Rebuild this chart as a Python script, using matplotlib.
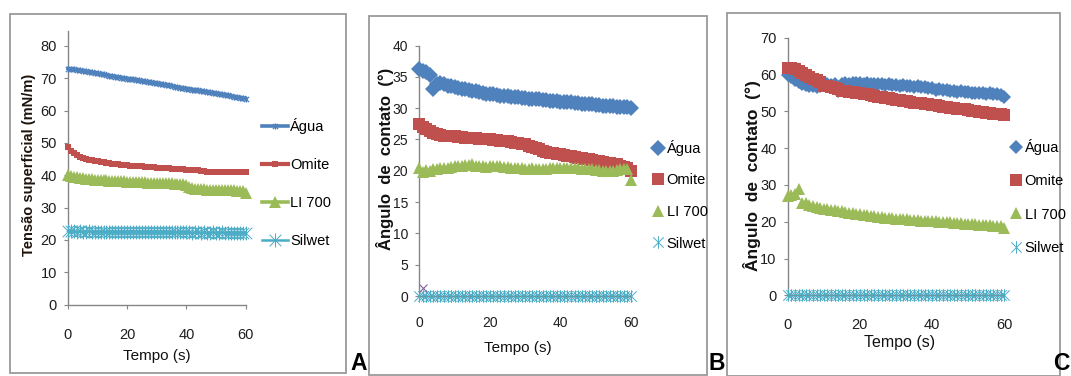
import matplotlib
matplotlib.use("Agg")
import matplotlib.pyplot as plt
from matplotlib import font_manager
from matplotlib.path import Path
from matplotlib.patches import Rectangle

# ---------------- data ----------------
tempo = list(range(61))

series_names = ["Água", "Omite", "LI 700", "Silwet"]

# Panel A: surface tension (mN/m)
agua_A = [73.0,72.8,72.7,72.5,72.4,72.2,72.1,71.9,71.8,71.6,
          71.5,71.3,71.2,71.0,70.8,70.7,70.5,70.4,70.2,70.1,
          69.9,69.8,69.6,69.5,69.3,69.1,69.0,68.8,68.7,68.5,
          68.4,68.2,68.1,67.9,67.8,67.6,67.4,67.3,67.1,67.0,
          66.8,66.7,66.5,66.4,66.2,66.0,65.9,65.7,65.6,65.4,
          65.3,65.1,65.0,64.8,64.7,64.5,64.3,64.2,64.0,63.9,
          63.7]
omite_A = [48.6,47.6,46.8,46.2,45.7,45.3,45.0,44.8,44.6,44.4,
           44.3,44.1,44.0,43.8,43.7,43.6,43.5,43.4,43.2,43.1,
           43.0,42.9,42.9,42.8,42.7,42.7,42.6,42.5,42.5,42.4,
           42.3,42.2,42.2,42.1,42.1,42.0,42.0,41.9,41.9,41.8,
           41.7,41.7,41.6,41.6,41.5,41.4,41.2,41.1,41.1,41.1,
           41.1,41.1,41.1,41.0,41.0,41.0,41.0,41.0,41.0,41.0,
           41.0]
li_A = [40.0,39.7,39.5,39.3,39.1,39.0,38.9,38.8,38.7,38.6,
        38.6,38.5,38.4,38.4,38.3,38.3,38.2,38.2,38.1,38.1,
        38.0,38.0,37.9,37.9,37.9,37.8,37.8,37.7,37.7,37.7,
        37.6,37.6,37.6,37.5,37.5,37.5,37.4,37.4,37.3,37.3,
        37.0,36.5,36.0,35.8,35.7,35.6,35.6,35.5,35.5,35.5,
        35.4,35.4,35.4,35.3,35.3,35.3,35.3,35.2,35.2,35.2,
        34.5]
silwet_A = [22.7,22.6,22.6,22.5,22.6,22.5,22.5,22.6,22.5,22.5,
            22.5,22.4,22.5,22.5,22.4,22.5,22.4,22.4,22.5,22.4,
            22.4,22.4,22.5,22.4,22.4,22.3,22.4,22.4,22.3,22.4,
            22.4,22.3,22.3,22.4,22.3,22.3,22.3,22.4,22.3,22.3,
            22.3,22.3,22.2,22.3,22.3,22.2,22.3,22.2,22.2,22.3,
            22.2,22.2,22.3,22.2,22.2,22.2,22.1,22.2,22.2,22.1,
            22.2]

# Panel B: contact angle (°)
agua_B = [36.2,36.0,35.7,35.3,33.0,33.9,34.0,33.8,33.6,33.5,
          33.3,33.2,33.1,33.0,32.9,32.8,32.7,32.5,32.4,32.3,
          32.3,32.2,32.1,32.0,32.0,31.9,31.8,31.8,31.7,31.6,
          31.6,31.5,31.5,31.4,31.4,31.3,31.3,31.2,31.1,31.1,
          31.0,31.0,30.9,30.9,30.8,30.8,30.7,30.7,30.6,30.6,
          30.5,30.5,30.4,30.4,30.3,30.3,30.2,30.2,30.1,30.1,
          30.0]
omite_B = [27.4,27.0,26.6,26.3,26.0,25.8,25.7,25.6,25.6,25.5,
           25.5,25.4,25.4,25.3,25.3,25.2,25.2,25.1,25.1,25.0,
           25.0,24.9,24.9,24.8,24.7,24.7,24.6,24.5,24.4,24.3,
           24.2,24.0,23.8,23.6,23.4,23.2,23.0,22.9,22.8,22.7,
           22.6,22.5,22.4,22.3,22.2,22.1,22.0,21.9,21.8,21.7,
           21.6,21.5,21.4,21.3,21.2,21.1,21.0,20.8,20.6,20.4,
           20.0]
li_B = [20.4,19.8,20.1,20.0,20.2,20.3,20.4,20.5,20.5,20.6,
        20.7,20.8,20.8,20.9,20.9,21.0,20.8,20.7,20.7,20.6,
        20.7,20.8,20.8,20.7,20.6,20.6,20.5,20.5,20.4,20.4,
        20.3,20.3,20.4,20.3,20.3,20.2,20.3,20.4,20.4,20.5,
        20.5,20.4,20.4,20.5,20.5,20.4,20.3,20.3,20.2,20.2,
        20.1,20.1,20.0,20.0,19.9,20.0,20.1,20.2,20.2,20.3,
        18.5]
silwet_B = [0,0,0,0,0,0,0,0,0,0, 0,0,0,0,0,0,0,0,0,0,
            0,0,0,0,0,0,0,0,0,0, 0,0,0,0,0,0,0,0,0,0,
            0,0,0,0,0,0,0,0,0,0, 0,0,0,0,0,0,0,0,0,0, 0]
extra_B_t = [1]
extra_B_v = [1.2]

# Panel C: contact angle (°)
agua_C = [60.0,59.2,58.6,58.0,57.5,57.1,57.0,56.8,56.6,56.9,
          57.1,57.3,57.2,57.4,55.4,57.3,57.6,57.5,57.7,57.6,
          57.7,57.5,57.6,57.4,57.5,57.3,57.4,57.2,57.3,57.1,
          57.2,57.0,57.1,56.9,57.0,56.7,56.8,56.5,56.6,56.3,
          56.2,55.9,56.0,55.7,55.8,55.5,55.6,55.3,55.4,55.2,
          55.3,55.0,55.1,54.9,55.0,54.8,54.9,54.6,54.8,54.5,
          54.0]
omite_C = [61.8,61.9,61.5,61.0,60.4,59.8,59.3,58.9,58.4,57.9,
           57.0,56.8,56.5,56.3,56.0,55.6,55.4,55.3,55.2,55.0,
           54.9,54.7,54.6,54.4,54.2,54.0,53.9,53.7,53.5,53.3,
           53.1,53.0,52.8,52.7,52.5,52.3,52.2,52.2,52.1,51.9,
           51.8,51.6,51.5,51.3,51.1,50.9,50.8,50.7,50.6,50.5,
           50.4,50.2,50.1,49.9,49.8,49.6,49.5,49.4,49.4,49.3,
           49.0]
li_C = [27.0,27.2,27.5,28.8,25.2,25.0,24.6,24.3,24.0,23.8,
        23.5,23.4,23.2,23.1,22.9,22.8,22.6,22.5,22.3,22.2,
        22.0,21.9,21.8,21.6,21.5,21.4,21.3,21.1,21.0,20.9,
        20.8,20.7,20.7,20.6,20.5,20.5,20.4,20.3,20.3,20.2,
        20.1,20.1,20.0,19.9,19.9,19.8,19.7,19.6,19.6,19.5,
        19.4,19.3,19.3,19.2,19.1,19.0,19.0,18.9,18.8,18.7,
        18.4]
silwet_C = [0,0,0,0,0,0,0,0,0,0, 0,0,0,0,0,0,0,0,0,0,
            0,0,0,0,0,0,0,0,0,0, 0,0,0,0,0,0,0,0,0,0,
            0,0,0,0,0,0,0,0,0,0, 0,0,0,0,0,0,0,0,0,0, 0]

xticks = [0, 20, 40, 60]
yticks_A = [0, 10, 20, 30, 40, 50, 60, 70, 80]
yticks_B = [0, 5, 10, 15, 20, 25, 30, 35, 40]
yticks_C = [0, 10, 20, 30, 40, 50, 60, 70]

# ---------------- style ----------------
W, H = 1071, 376
DPI = 100
colors = ["#4F81BD", "#C0504D", "#9BBB59", "#4BACC6"]
AXIS_GRAY = "#868686"

def has_font(name):
    try:
        font_manager.findfont(font_manager.FontProperties(family=name), fallback_to_default=False)
        return True
    except Exception:
        return False

NARROW = "Liberation Sans Narrow" if has_font("Liberation Sans Narrow") else "Liberation Sans"
BOLD = "Liberation Sans"

# Excel-like star marker: X plus vertical bar
star_path = Path([(-1, -1), (1, 1), (-1, 1), (1, -1), (0, -1.2), (0, 1.2)],
                 [Path.MOVETO, Path.LINETO, Path.MOVETO, Path.LINETO, Path.MOVETO, Path.LINETO])

fig = plt.figure(figsize=(W / DPI, H / DPI), dpi=DPI)

def fx(x):
    return x / W

def fy(y):
    return 1 - y / H

def make_axes(x0, x1, y_bottom, y_top):
    ax = fig.add_axes([fx(x0), fy(y_bottom), fx(x1 - x0), (y_bottom - y_top) / H])
    for s in ["top", "right"]:
        ax.spines[s].set_visible(False)
    for s in ["left", "bottom"]:
        ax.spines[s].set_color(AXIS_GRAY)
        ax.spines[s].set_linewidth(1.0)
        ax.spines[s].set_zorder(0.5)
    ax.patch.set_alpha(0)
    return ax

def style_ticks(ax, size, xpad):
    ax.xaxis.set_tick_params(direction="out", length=3, width=0.8, color=AXIS_GRAY,
                             labelsize=size, labelcolor="#1e1e1e", pad=xpad)
    ax.yaxis.set_tick_params(direction="out", length=3, width=0.8, color=AXIS_GRAY,
                             labelsize=size, labelcolor="#1e1e1e", pad=5)
    for lab in ax.get_xticklabels() + ax.get_yticklabels():
        lab.set_fontfamily(NARROW)

# frames around panels
for (x0, y0, x1, y1) in [(10, 14, 346, 373), (369, 16, 707, 375), (727, 13, 1060, 376)]:
    fig.patches.append(Rectangle((fx(x0), fy(y1)), fx(x1 - x0), (y1 - y0) / H,
                                 transform=fig.transFigure, fill=False,
                                 edgecolor="#9a9a9a", linewidth=1.3))

# ---------------- Panel A ----------------
axA = make_axes(68, 245.5, 304.5, 31)
axA.set_xlim(0, 60)
axA.set_ylim(0, 84.6)
hA = []
hA.append(axA.plot(tempo, agua_A, color=colors[0], lw=2.6, marker=star_path, ms=4.5,
                   mec=colors[0], mew=0.9, clip_on=False, label=series_names[0])[0])
hA.append(axA.plot(tempo, omite_A, color=colors[1], lw=3.0, marker="s", ms=4,
                   mec=colors[1], mew=0, clip_on=False, label=series_names[1])[0])
hA.append(axA.plot(tempo, li_A, color=colors[2], lw=2.6, marker="^", ms=9,
                   mew=0, clip_on=False, label=series_names[2])[0])
hA.append(axA.plot(tempo, silwet_A, color=colors[3], lw=1.8, marker=star_path, ms=10,
                   mfc="none", mec=colors[3], mew=0.7, clip_on=False, label=series_names[3])[0])
axA.set_xticks(xticks)
axA.set_yticks(yticks_A)
style_ticks(axA, 10.5, 14)

legA = fig.legend(handles=hA, loc="upper left", bbox_to_anchor=(fx(262), fy(118)),
                  frameon=False, prop={"family": NARROW, "size": 10.5},
                  handlelength=1.8, handletextpad=0.15, labelspacing=1.65,
                  borderpad=0, borderaxespad=0)

fig.text(fx(29), fy(165), "Tensão superficial (mN/m)", rotation=90, ha="center", va="center",
         fontsize=10.5, fontweight="bold", family=BOLD, color="#1f140c")
fig.text(fx(157), fy(356), "Tempo (s)", ha="center", va="center", fontsize=11,
         family=NARROW, color="#111111")

# ---------------- Panel B ----------------
axB = make_axes(419.3, 631, 296, 45.5)
axB.set_xlim(0, 60)
axB.set_ylim(0, 40)
hB = []
hB.append(axB.plot(tempo, agua_B, ls="none", marker="D", ms=8.5, color=colors[0], mew=0,
                   clip_on=False, label=series_names[0])[0])
hB.append(axB.plot(tempo, omite_B, ls="none", marker="s", ms=8, color=colors[1], mew=0,
                   clip_on=False, label=series_names[1])[0])
hB.append(axB.plot(tempo, li_B, ls="none", marker="^", ms=8.5, color=colors[2], mew=0,
                   clip_on=False, label=series_names[2])[0])
hB.append(axB.plot(tempo, silwet_B, ls="none", marker=star_path, ms=9, mfc="none",
                   mec=colors[3], mew=0.7, clip_on=False, label=series_names[3])[0])
axB.plot(extra_B_t, extra_B_v, ls="none", marker="x", ms=6, mec="#8064A2", mew=0.8, clip_on=False)
axB.set_xticks(xticks)
axB.set_yticks(yticks_B)
style_ticks(axB, 10, 11.5)

legB = fig.legend(handles=hB, loc="upper left", bbox_to_anchor=(fx(652), fy(140)),
                  frameon=False, prop={"family": NARROW, "size": 10.5},
                  handlelength=0.8, handletextpad=0.2, labelspacing=1.2, numpoints=1,
                  borderpad=0, borderaxespad=0)

fig.text(fx(385), fy(159), "Ângulo  de  contato  (°)", rotation=90, ha="center", va="center",
         fontsize=12, fontweight="bold", family=BOLD, color="#111111")
fig.text(fx(518), fy(348), "Tempo (s)", ha="center", va="center", fontsize=11,
         family=NARROW, color="#111111")

# ---------------- Panel C ----------------
axC = make_axes(787.7, 1004.3, 295.3, 37.7)
axC.set_xlim(0, 60)
axC.set_ylim(0, 70)
hC = []
hC.append(axC.plot(tempo, agua_C, ls="none", marker="D", ms=7, color=colors[0], mew=0,
                   clip_on=False, label=series_names[0])[0])
hC.append(axC.plot(tempo, omite_C, ls="none", marker="s", ms=8.5, color=colors[1], mew=0,
                   clip_on=False, label=series_names[1])[0])
hC.append(axC.plot(tempo, li_C, ls="none", marker="^", ms=9, color=colors[2], mew=0,
                   clip_on=False, label=series_names[2])[0])
hC.append(axC.plot(tempo, silwet_C, ls="none", marker=star_path, ms=9, mfc="none",
                   mec=colors[3], mew=0.7, clip_on=False, label=series_names[3])[0])
axC.set_xticks(xticks)
axC.set_yticks(yticks_C)
style_ticks(axC, 10.5, 13)

legC = fig.legend(handles=hC, loc="upper left", bbox_to_anchor=(fx(1010), fy(139)),
                  frameon=False, prop={"family": NARROW, "size": 10.5},
                  handlelength=0.8, handletextpad=0.2, labelspacing=1.32, numpoints=1,
                  borderpad=0, borderaxespad=0)

fig.text(fx(752), fy(176), "Ângulo  de  contato  (°)", rotation=90, ha="center", va="center",
         fontsize=12.5, fontweight="bold", family=BOLD, color="#111111")
fig.text(fx(900), fy(342), "Tempo (s)", ha="center", va="center", fontsize=11.5,
         family=NARROW, color="#111111")

# panel letters
for x, letter in [(350, "A"), (708, "B"), (1053, "C")]:
    fig.text(fx(x), fy(375.5), letter, ha="left", va="bottom", fontsize=16.5,
             fontweight="bold", family=BOLD, color="#000000")

fig.savefig("out.png", dpi=DPI, facecolor="white")
